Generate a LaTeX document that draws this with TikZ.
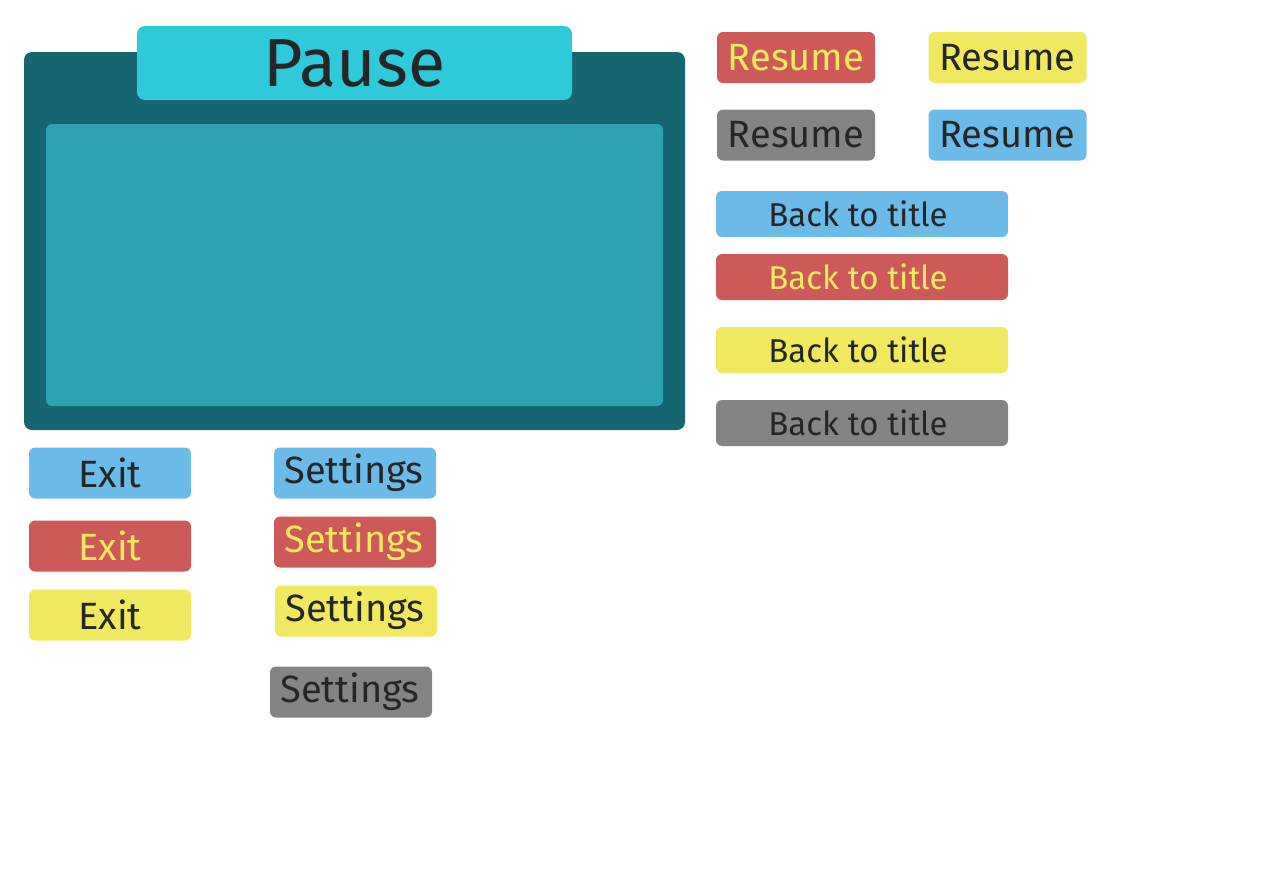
\documentclass[tikz,border=0pt]{standalone}
\usepackage{fontspec}
\setmainfont{Fira Sans}
\definecolor{cdark}{HTML}{156670}
\definecolor{ccyan}{HTML}{2ECAD9}
\definecolor{cinner}{HTML}{2BA3B0}
\definecolor{cred}{HTML}{CD5958}
\definecolor{cyel}{HTML}{F0E85E}
\definecolor{cgray}{HTML}{828586}
\definecolor{cblue}{HTML}{6BBAE8}
\definecolor{ctext}{HTML}{262626}
\begin{document}
\begin{tikzpicture}[x=1pt,y=-1pt,
  btn/.style={rounded corners=6pt, inner sep=0pt, text=ctext},
  small/.style={btn, minimum width=158pt, minimum height=51pt, font=\fontsize{38}{42}\selectfont},
  wide/.style={btn, minimum width=292pt, minimum height=46pt, font=\fontsize{33}{38}\selectfont},
  ontext/.style={text=cyel}]
\useasboundingbox (0,0) rectangle (1280,887);
% pause panel
\node[btn, fill=cdark, minimum width=661pt, minimum height=378pt, rounded corners=8pt] (panel) at (354.5,241) {};
\node[btn, fill=cinner, minimum width=617pt, minimum height=282pt] (inner) at (354.5,265) {};
\node[btn, fill=ccyan, minimum width=435pt, minimum height=74pt, rounded corners=8pt, font=\fontsize{68}{74}\selectfont] (title) at (354.5,63) {Pause};
% resume
\node[small, fill=cred, ontext] (r1) at (796,57.5) {Resume};
\node[small, fill=cyel] (r2) at (1007.5,57.5) {Resume};
\node[small, fill=cgray] (r3) at (796,135) {Resume};
\node[small, fill=cblue] (r4) at (1007.5,135) {Resume};
% back to title
\node[wide, fill=cblue] (b1) at (862,214) {Back to title\hspace*{8pt}};
\node[wide, fill=cred, ontext] (b2) at (862,277) {Back to title\hspace*{8pt}};
\node[wide, fill=cyel] (b3) at (862,350) {Back to title\hspace*{8pt}};
\node[wide, fill=cgray] (b4) at (862,423) {Back to title\hspace*{8pt}};
% exit
\node[small, fill=cblue, minimum width=162pt] (e1) at (110,473) {Exit};
\node[small, fill=cred, ontext, minimum width=162pt] (e2) at (110,546) {Exit};
\node[small, fill=cyel, minimum width=162pt] (e3) at (110,615) {Exit};
% settings
\node[small, fill=cblue, minimum width=162pt] (s1) at (355,473) {Settings\hspace*{2pt}};
\node[small, fill=cred, ontext, minimum width=162pt] (s2) at (355,542) {Settings\hspace*{2pt}};
\node[small, fill=cyel, minimum width=162pt] (s3) at (356,611) {Settings\hspace*{2pt}};
\node[small, fill=cgray, minimum width=162pt] (s4) at (351,692) {Settings\hspace*{2pt}};
\end{tikzpicture}
\end{document}
